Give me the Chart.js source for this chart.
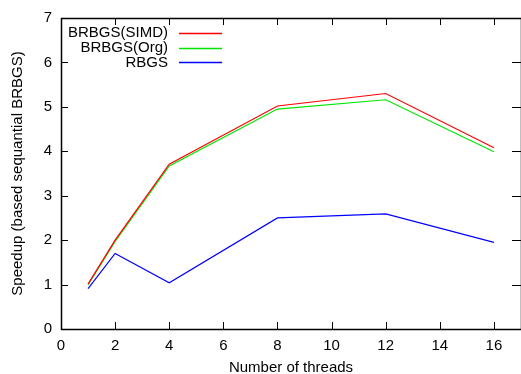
<!DOCTYPE html>
<html>
<head>
<meta charset="utf-8">
<script src="https://cdn.jsdelivr.net/npm/chart.js@4"></script>
<style>
  html, body { margin: 0; padding: 0; background: #fff; }
  #wrap { width: 521px; height: 374px; }
</style>
</head>
<body>
<div id="wrap"><canvas id="speedupChart" width="521" height="374"></canvas></div>
<script>
// data
const threads = [1, 2, 4, 8, 12, 16];
const brbgsSimd = [1.01, 2.0, 3.71, 5.02, 5.30, 4.08];
const brbgsOrg = [1.0, 1.97, 3.67, 4.95, 5.16, 3.99];
const rbgs = [0.91, 1.70, 1.04, 2.50, 2.59, 1.95];
const xTicks = [0, 2, 4, 6, 8, 10, 12, 14, 16];
const yTicks = [0, 1, 2, 3, 4, 5, 6, 7];

const FONT = 'Liberation Sans, Arial, sans-serif';

function pts(ys) {
    return threads.map((t, i) => ({ x: t, y: ys[i] }));
}

// gnuplot-like frame: full border plus inward ticks on all four sides
const framePlugin = {
    id: 'frame',
    afterDraw(chart) {
        const ctx = chart.ctx;
        const a = chart.chartArea;
        const xs = chart.scales.x, ys = chart.scales.y;
        ctx.save();
        ctx.strokeStyle = '#000';
        ctx.lineWidth = 1;
        ctx.beginPath();
        xTicks.forEach(v => {
            const px = Math.round(xs.getPixelForValue(v)) + 0.5;
            ctx.moveTo(px, a.bottom); ctx.lineTo(px, a.bottom - 7);
            ctx.moveTo(px, a.top); ctx.lineTo(px, a.top + 7);
        });
        yTicks.forEach(v => {
            const py = Math.round(ys.getPixelForValue(v)) + 0.5;
            ctx.moveTo(a.left, py); ctx.lineTo(a.left + 7, py);
            ctx.moveTo(a.right, py); ctx.lineTo(a.right - 9, py);
        });
        ctx.stroke();
        ctx.lineWidth = 1.5;
        ctx.strokeRect(Math.round(a.left) + 0.5, Math.round(a.top) + 0.5,
                       Math.round(a.right - a.left), Math.round(a.bottom - a.top));

        // key in the top left corner
        ctx.font = '15px ' + FONT;
        ctx.textAlign = 'right';
        ctx.textBaseline = 'middle';
        chart.data.datasets.forEach((ds, i) => {
            const y = a.top + 15 + i * 14.7;
            ctx.fillStyle = '#000';
            ctx.fillText(ds.label, a.left + 107, y);
            ctx.strokeStyle = ds.borderColor;
            ctx.lineWidth = 1.3;
            ctx.beginPath();
            ctx.moveTo(a.left + 118, Math.round(y) + 0.5);
            ctx.lineTo(a.left + 161, Math.round(y) + 0.5);
            ctx.stroke();
        });
        ctx.restore();
    }
};

new Chart(document.getElementById('speedupChart').getContext('2d'), {
    type: 'line',
    data: {
        datasets: [
            { label: 'BRBGS(SIMD)', data: pts(brbgsSimd), borderColor: '#ff0000' },
            { label: 'BRBGS(Org)', data: pts(brbgsOrg), borderColor: '#00e600' },
            { label: 'RBGS', data: pts(rbgs), borderColor: '#0000ff' }
        ]
    },
    options: {
        responsive: false,
        animation: false,
        devicePixelRatio: 1,
        layout: { padding: { top: 14, right: 0, left: 0, bottom: 0 } },
        elements: {
            line: { borderWidth: 1.2, tension: 0, fill: false },
            point: { radius: 0 }
        },
        plugins: {
            legend: { display: false },
            tooltip: { enabled: false }
        },
        scales: {
            x: {
                type: 'linear',
                min: 0,
                max: 17,
                afterFit: s => { s.height = 45; },
                afterBuildTicks: s => { s.ticks = xTicks.map(v => ({ value: v })); },
                grid: { display: false, drawTicks: false },
                border: { display: false },
                ticks: { color: '#000', padding: 8, font: { family: FONT, size: 15 } },
                title: {
                    display: true,
                    text: 'Number of threads',
                    color: '#000',
                    padding: { top: 6, bottom: -3 },
                    font: { family: FONT, size: 15 }
                }
            },
            y: {
                min: 0,
                max: 7,
                afterFit: s => { s.width = 61; },
                afterBuildTicks: s => { s.ticks = yTicks.map(v => ({ value: v })); },
                grid: { display: false, drawTicks: false },
                border: { display: false },
                ticks: { color: '#000', padding: 9, font: { family: FONT, size: 15 } },
                title: {
                    display: true,
                    text: 'Speedup (based sequantial BRBGS)',
                    color: '#000',
                    padding: { top: 9, bottom: 0 },
                    font: { family: FONT, size: 15 }
                }
            }
        }
    },
    plugins: [framePlugin]
});
</script>
</body>
</html>
